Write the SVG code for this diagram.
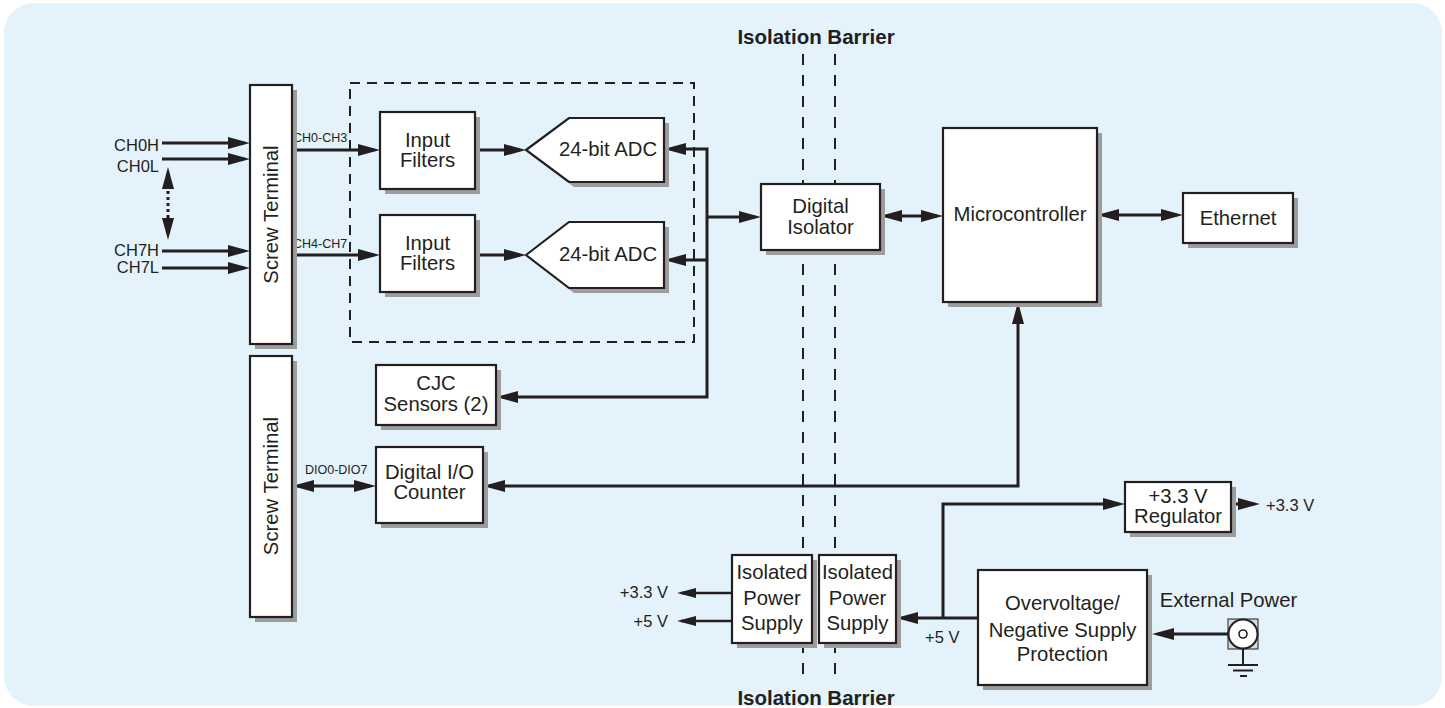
<svg xmlns="http://www.w3.org/2000/svg" width="1445" height="708" viewBox="0 0 1445 708">
<style>
.bx{fill:#fff;stroke:#231f20;stroke-width:2.2}
.sh{fill:#9d9d9d}
.t{font-family:"Liberation Sans",Arial,sans-serif;font-size:20.3px;fill:#231f20;text-anchor:middle}
.s{font-family:"Liberation Sans",Arial,sans-serif;font-size:16.5px;fill:#231f20}
.xs{font-family:"Liberation Sans",Arial,sans-serif;font-size:12.5px;fill:#231f20}
.b{font-family:"Liberation Sans",Arial,sans-serif;font-size:20.5px;font-weight:bold;fill:#231f20;text-anchor:middle}
.w{fill:none;stroke:#231f20;stroke-width:3}
.wa{fill:none;stroke:#231f20;stroke-width:3;marker-end:url(#a)}
.wd{fill:none;stroke:#231f20;stroke-width:3;marker-start:url(#a);marker-end:url(#a)}
.th{fill:none;stroke:#231f20;stroke-width:2.5;marker-end:url(#b)}
.dash{fill:none;stroke:#231f20;stroke-width:2;stroke-dasharray:10 7}
.bar{fill:none;stroke:#231f20;stroke-width:2;stroke-dasharray:11 10}
</style>
<defs>
<marker id="a" markerUnits="userSpaceOnUse" markerWidth="22" markerHeight="12" refX="16" refY="6" orient="auto-start-reverse" viewBox="0 0 22 12"><path d="M0,0 L22,6 L0,12 z" fill="#231f20"/></marker>
<marker id="b" markerUnits="userSpaceOnUse" markerWidth="19" markerHeight="10" refX="15" refY="5" orient="auto-start-reverse" viewBox="0 0 19 10"><path d="M0,0 L19,5 L0,10 z" fill="#231f20"/></marker>
</defs>
<rect x="4" y="3" width="1438" height="703" rx="30" fill="#e4f3fb"/>

<!-- isolation barrier -->
<g id="isolation-barrier">
<path class="bar" d="M803,54 V684 M835,54 V684"/>
<text class="b" x="816" y="44">Isolation Barrier</text>
<text class="b" x="816" y="705">Isolation Barrier</text>
</g>

<!-- dashed group box -->
<rect class="dash" x="350" y="83" width="344" height="259"/>

<g id="connectors">
<path class="wa" d="M162,143 H244"/>
<path class="wa" d="M162,159 H244"/>
<path class="wa" d="M162,251 H244"/>
<path class="wa" d="M162,268 H244"/>
<path fill="none" stroke="#231f20" stroke-width="3" stroke-dasharray="3 3" marker-start="url(#a)" marker-end="url(#a)" d="M168,173 V234"/>
<path class="wa" d="M292,150 H374"/>
<path class="wa" d="M292,255 H374"/>
<path class="wa" d="M475,150 H520"/>
<path class="wa" d="M475,255 H520"/>
<path class="wd" d="M670,149 H707 V397 H502"/>
<path class="wa" d="M707,260 H670"/>
<path class="wa" d="M707,217 H755"/>
<path class="wd" d="M886,216 H937"/>
<path class="wd" d="M1103,215 H1177"/>
<path class="wd" d="M298,486 H370"/>
<path class="wd" d="M1018,308 V486 H489"/>
<path class="wa" d="M978,618 H902"/>
<path class="wa" d="M943,618 V504 H1119"/>
<path class="wa" d="M1231,504 H1254"/>
<path class="wa" d="M1228,634 H1158"/>
<path class="th" d="M732,593 H681"/>
<path class="th" d="M732,621 H681"/>
</g>

<g id="signal-labels">
<text class="s" x="159" y="151" text-anchor="end">CH0H</text>
<text class="s" x="159" y="172" text-anchor="end">CH0L</text>
<text class="s" x="159" y="256" text-anchor="end">CH7H</text>
<text class="s" x="159" y="273" text-anchor="end">CH7L</text>
<text class="xs" x="293" y="142">CH0-CH3</text>
<text class="xs" x="293" y="248">CH4-CH7</text>
<text class="xs" x="305" y="474">DIO0-DIO7</text>
<text class="s" x="668" y="598" text-anchor="end">+3.3 V</text>
<text class="s" x="668" y="627" text-anchor="end">+5 V</text>
<text class="s" x="925" y="643">+5 V</text>
<text class="s" x="1266" y="511">+3.3 V</text>
</g>

<g id="screw-terminal-1">
<rect class="sh" x="255" y="90" width="42" height="259"/>
<rect class="bx" x="250" y="85" width="42" height="259"/>
<text class="t" transform="translate(278,214.5) rotate(-90)">Screw Terminal</text>
</g>
<g id="screw-terminal-2">
<rect class="sh" x="255" y="361" width="42" height="261"/>
<rect class="bx" x="250" y="356" width="42" height="261"/>
<text class="t" transform="translate(278,486) rotate(-90)">Screw Terminal</text>
</g>

<g id="input-filters-1">
<rect class="sh" x="385" y="117" width="95" height="77"/>
<rect class="bx" x="380" y="112" width="95" height="77"/>
<text class="t" x="427.5" y="147">Input</text>
<text class="t" x="427.5" y="167">Filters</text>
</g>
<g id="input-filters-2">
<rect class="sh" x="385" y="220" width="95" height="77"/>
<rect class="bx" x="380" y="215" width="95" height="77"/>
<text class="t" x="427.5" y="250">Input</text>
<text class="t" x="427.5" y="270">Filters</text>
</g>

<g id="adc-1">
<polygon class="sh" points="531,155 574,123 669,123 669,187 574,187"/>
<polygon class="bx" points="526,150 569,118 664,118 664,182 569,182"/>
<text class="t" x="608" y="156">24-bit ADC</text>
</g>
<g id="adc-2">
<polygon class="sh" points="531,260 574,227 669,227 669,293 574,293"/>
<polygon class="bx" points="526,255 569,222 664,222 664,288 569,288"/>
<text class="t" x="608" y="261">24-bit ADC</text>
</g>

<g id="cjc-sensors">
<rect class="sh" x="381" y="370" width="120" height="60"/>
<rect class="bx" x="376" y="365" width="120" height="60"/>
<text class="t" x="436" y="390">CJC</text>
<text class="t" x="436" y="411">Sensors (2)</text>
</g>

<g id="digital-io">
<rect class="sh" x="381" y="452" width="107" height="76"/>
<rect class="bx" x="376" y="447" width="107" height="76"/>
<text class="t" x="429.5" y="479">Digital I/O</text>
<text class="t" x="429.5" y="499">Counter</text>
</g>

<g id="digital-isolator">
<rect class="sh" x="766" y="189" width="119" height="66"/>
<rect class="bx" x="761" y="184" width="119" height="66"/>
<text class="t" x="820.5" y="213">Digital</text>
<text class="t" x="820.5" y="234">Isolator</text>
</g>

<g id="microcontroller">
<rect class="sh" x="948" y="133" width="154" height="174"/>
<rect class="bx" x="943" y="128" width="154" height="174"/>
<text class="t" x="1020" y="221">Microcontroller</text>
</g>

<g id="ethernet">
<rect class="sh" x="1188" y="198" width="110" height="50"/>
<rect class="bx" x="1183" y="193" width="110" height="50"/>
<text class="t" x="1238" y="225">Ethernet</text>
</g>

<g id="isolated-ps-1">
<rect class="sh" x="737" y="560" width="80" height="88"/>
<rect class="bx" x="732" y="555" width="80" height="88"/>
<text class="t" x="772" y="579">Isolated</text>
<text class="t" x="772" y="605">Power</text>
<text class="t" x="772" y="630">Supply</text>
</g>
<g id="isolated-ps-2">
<rect class="sh" x="824" y="560" width="77" height="88"/>
<rect class="bx" x="819" y="555" width="77" height="88"/>
<text class="t" x="857.5" y="579">Isolated</text>
<text class="t" x="857.5" y="605">Power</text>
<text class="t" x="857.5" y="630">Supply</text>
</g>

<g id="regulator">
<rect class="sh" x="1130" y="487" width="106" height="50"/>
<rect class="bx" x="1125" y="482" width="106" height="50"/>
<text class="t" x="1178" y="503">+3.3 V</text>
<text class="t" x="1178" y="523">Regulator</text>
</g>

<g id="overvoltage">
<rect class="sh" x="983" y="575" width="169" height="115"/>
<rect class="bx" x="978" y="570" width="169" height="115"/>
<text class="t" x="1062.5" y="610">Overvoltage/</text>
<text class="t" x="1062.5" y="637">Negative Supply</text>
<text class="t" x="1062.5" y="661">Protection</text>
</g>

<g id="external-power">
<text class="t" x="1228.5" y="607">External Power</text>
<rect x="1228" y="619" width="30" height="30" fill="#d9d9d9" stroke="#231f20" stroke-width="1"/>
<circle cx="1243" cy="634" r="14.5" fill="#fff" stroke="#231f20" stroke-width="2"/>
<circle cx="1243" cy="634" r="4" fill="#fff" stroke="#231f20" stroke-width="1.6"/>
<path fill="none" stroke="#231f20" stroke-width="2" d="M1243,649 V665 M1228,665 H1258 M1233,670.5 H1253 M1240,676 H1247"/>
</g>
</svg>
